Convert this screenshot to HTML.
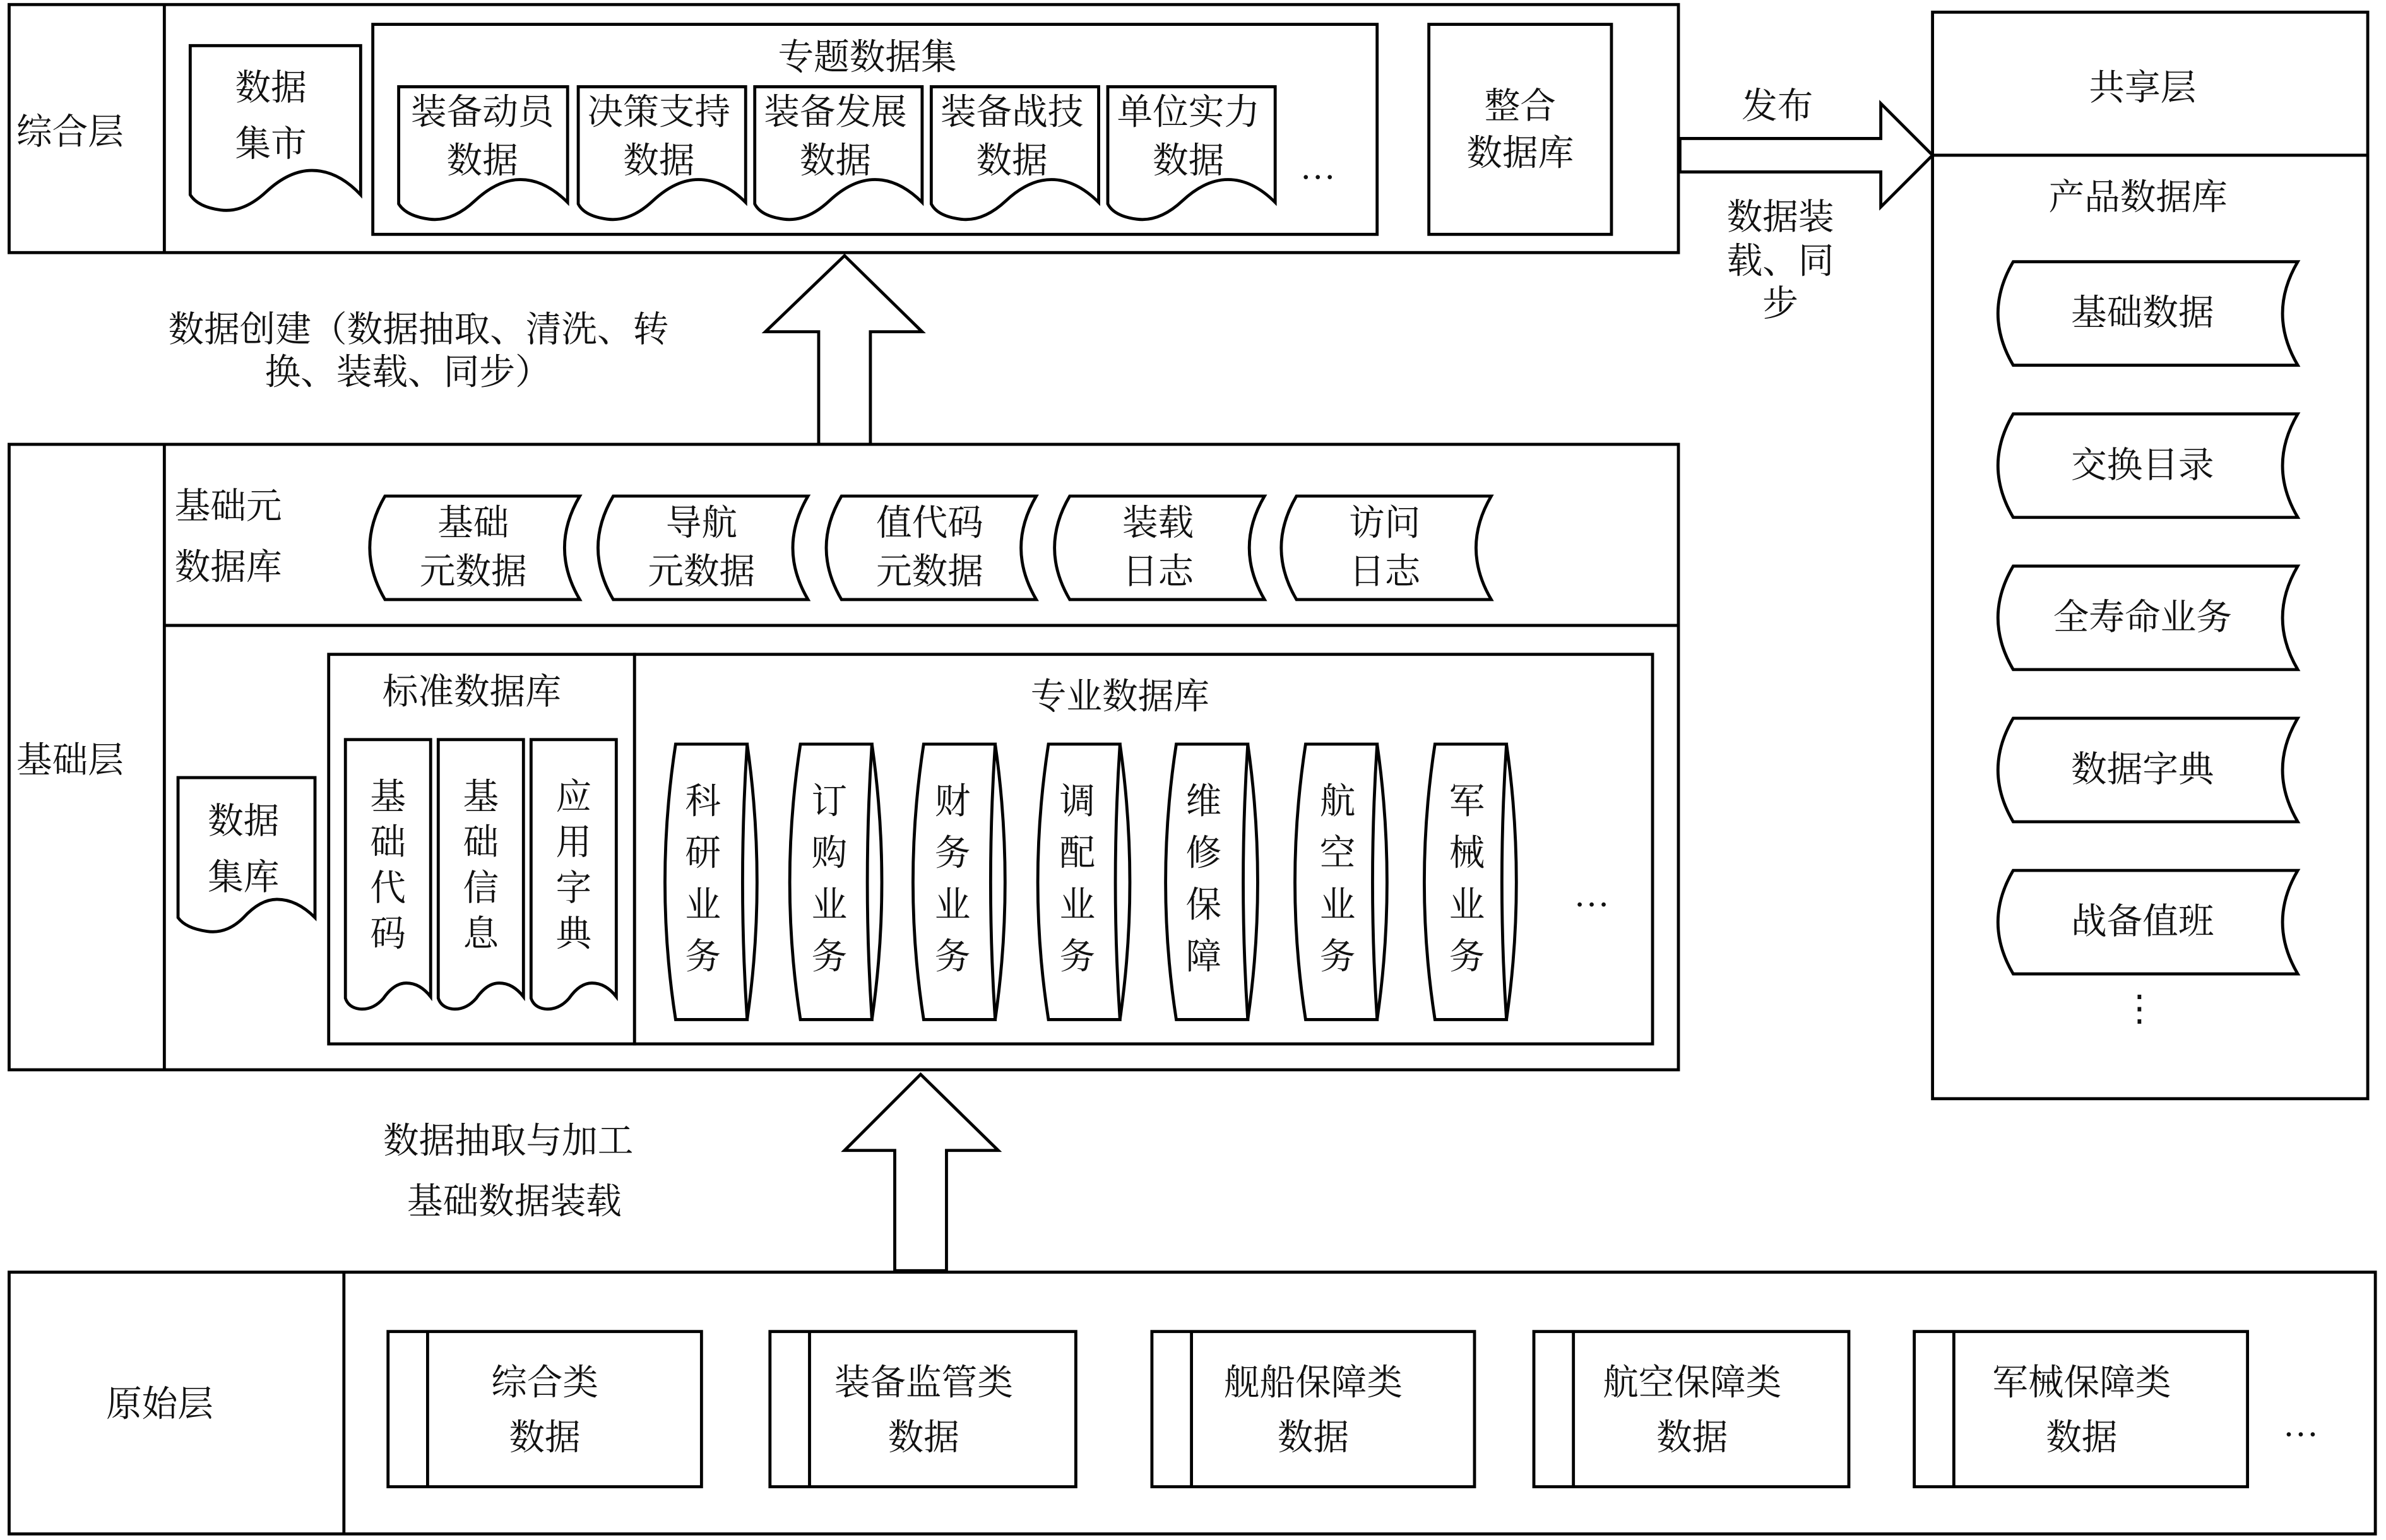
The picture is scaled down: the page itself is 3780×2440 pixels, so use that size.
<!DOCTYPE html>
<html><head><meta charset="utf-8"><style>
html,body{margin:0;padding:0;background:#fff}
svg{display:block}
text{font-family:"Liberation Serif","Noto Serif CJK SC","Noto Sans CJK SC",serif;font-size:23.5px;fill:#111;text-anchor:middle;dominant-baseline:central}
.s{fill:#fff;stroke:#000;stroke-width:2}
.n{fill:none;stroke:#000;stroke-width:2}
</style></head><body>
<svg width="3780" height="2440" viewBox="0 0 1568 1012" preserveAspectRatio="none" xmlns="http://www.w3.org/2000/svg">
<rect class="s" x="6" y="3" width="1097" height="163"/>
<line class="n" x1="108" y1="3" x2="108" y2="166"/>
<text x="46" y="87">综合层</text>
<path class="s" d="M125 30 H237 V128 Q222 112 205 112 Q190 112 175 126 Q160 140 145 138 Q130 136 125 128 Z"/>
<text x="178" y="58">数据</text><text x="178" y="95">集市</text>
<rect class="s" x="245" y="16" width="660" height="138"/>
<text x="570" y="38">专题数据集</text>
<path class="s" d="M262 57 H373 V133 Q358 118 342 118 Q327 118 312 132 Q297 146 282 144 Q267 142 262 134 Z"/>
<path class="s" d="M380 57 H490 V133 Q475 118 459 118 Q444 118 429 132 Q414 146 399 144 Q384 142 380 134 Z"/>
<path class="s" d="M496 57 H606 V133 Q591 118 575 118 Q560 118 545 132 Q530 146 515 144 Q500 142 496 134 Z"/>
<path class="s" d="M612 57 H722 V133 Q707 118 691 118 Q676 118 661 132 Q646 146 631 144 Q616 142 612 134 Z"/>
<path class="s" d="M728 57 H838 V133 Q823 118 807 118 Q792 118 777 132 Q762 146 747 144 Q732 142 728 134 Z"/>
<text x="317" y="74">装备动员</text><text x="317" y="106">数据</text>
<text x="433" y="74">决策支持</text><text x="433" y="106">数据</text>
<text x="549" y="74">装备发展</text><text x="549" y="106">数据</text>
<text x="665" y="74">装备战技</text><text x="665" y="106">数据</text>
<text x="781" y="74">单位实力</text><text x="781" y="106">数据</text>
<text x="866" y="110">…</text>
<rect class="s" x="939" y="16" width="120" height="138"/>
<text x="999" y="70">整合</text><text x="999" y="101">数据库</text>
<path class="s" d="M1104 91 H1236 V68 L1270 102 L1236 136 V113 H1104 Z"/>
<text x="1168" y="70">发布</text>
<text x="1170" y="143">数据装</text><text x="1170" y="172">载、同</text><text x="1170" y="200">步</text>
<rect class="s" x="1270" y="8" width="286" height="714"/>
<line class="n" x1="1270" y1="102" x2="1556" y2="102"/>
<text x="1408" y="58">共享层</text>
<text x="1405" y="130">产品数据库</text>
<path class="s" d="M1323 172 H1510 Q1490 206 1510 240 H1323 Q1303 206 1323 172 Z"/>
<path class="s" d="M1323 272 H1510 Q1490 306 1510 340 H1323 Q1303 306 1323 272 Z"/>
<path class="s" d="M1323 372 H1510 Q1490 406 1510 440 H1323 Q1303 406 1323 372 Z"/>
<path class="s" d="M1323 472 H1510 Q1490 506 1510 540 H1323 Q1303 506 1323 472 Z"/>
<path class="s" d="M1323 572 H1510 Q1490 606 1510 640 H1323 Q1303 606 1323 572 Z"/>
<text x="1408" y="206">基础数据</text>
<text x="1408" y="306">交换目录</text>
<text x="1408" y="406">全寿命业务</text>
<text x="1408" y="506">数据字典</text>
<text x="1408" y="606">战备值班</text>
<text x="1406" y="663">⋮</text>
<path class="s" d="M538 292 V218 H503 L555 168 L606 218 H572 V292 Z"/>
<text x="275" y="217">数据创建（数据抽取、清洗、转</text>
<text x="268" y="245">换、装载、同步）</text>
<rect class="s" x="6" y="292" width="1097" height="411"/>
<line class="n" x1="108" y1="292" x2="108" y2="703"/>
<line class="n" x1="108" y1="411" x2="1103" y2="411"/>
<text x="46" y="500">基础层</text>
<text x="150" y="333">基础元</text><text x="150" y="373">数据库</text>
<path class="s" d="M253 326 H381 Q361 360 381 394 H253 Q233 360 253 326 Z"/>
<path class="s" d="M403 326 H531 Q511 360 531 394 H403 Q383 360 403 326 Z"/>
<path class="s" d="M553 326 H681 Q661 360 681 394 H553 Q533 360 553 326 Z"/>
<path class="s" d="M703 326 H831 Q811 360 831 394 H703 Q683 360 703 326 Z"/>
<path class="s" d="M852 326 H980 Q960 360 980 394 H852 Q832 360 852 326 Z"/>
<text x="311" y="344">基础</text><text x="311" y="376">元数据</text>
<text x="461" y="344">导航</text><text x="461" y="376">元数据</text>
<text x="611" y="344">值代码</text><text x="611" y="376">元数据</text>
<text x="761" y="344">装载</text><text x="761" y="376">日志</text>
<text x="910" y="344">访问</text><text x="910" y="376">日志</text>
<path class="s" d="M117 511 H207 V603 Q195 591 182 591 Q171 591 160 603 Q149 614 136 612 Q122 610 117 603 Z"/>
<text x="160" y="540">数据</text><text x="160" y="577">集库</text>
<rect class="s" x="216" y="430" width="201" height="256"/>
<rect class="s" x="417" y="430" width="669" height="256"/>
<text x="310" y="455">标准数据库</text>
<text x="736" y="458">专业数据库</text>
<path class="s" d="M227 486 H283 V655 Q276 646 267 646 Q259 646 252 656 Q245 664 236 663 Q229 662 227 656 Z"/>
<path class="s" d="M288 486 H344 V655 Q337 646 328 646 Q320 646 313 656 Q306 664 297 663 Q290 662 288 656 Z"/>
<path class="s" d="M349 486 H405 V655 Q398 646 389 646 Q381 646 374 656 Q367 664 358 663 Q351 662 349 656 Z"/>
<g>
<text x="255" y="524">基</text><text x="255" y="554">础</text><text x="255" y="584">代</text><text x="255" y="614">码</text>
<text x="316" y="524">基</text><text x="316" y="554">础</text><text x="316" y="584">信</text><text x="316" y="614">息</text>
<text x="377" y="524">应</text><text x="377" y="554">用</text><text x="377" y="584">字</text><text x="377" y="614">典</text>
</g>
<g>
<path class="s" d="M444 489 H491 Q485 580 491 670 H444 Q430 580 444 489 Z"/><path class="n" d="M491 489 Q504 580 491 670"/>
<path class="s" d="M526 489 H573 Q567 580 573 670 H526 Q512 580 526 489 Z"/><path class="n" d="M573 489 Q586 580 573 670"/>
<path class="s" d="M607 489 H654 Q648 580 654 670 H607 Q593 580 607 489 Z"/><path class="n" d="M654 489 Q667 580 654 670"/>
<path class="s" d="M689 489 H736 Q730 580 736 670 H689 Q675 580 689 489 Z"/><path class="n" d="M736 489 Q749 580 736 670"/>
<path class="s" d="M773 489 H820 Q814 580 820 670 H773 Q759 580 773 489 Z"/><path class="n" d="M820 489 Q833 580 820 670"/>
<path class="s" d="M858 489 H905 Q899 580 905 670 H858 Q844 580 858 489 Z"/><path class="n" d="M905 489 Q918 580 905 670"/>
<path class="s" d="M943 489 H990 Q984 580 990 670 H943 Q929 580 943 489 Z"/><path class="n" d="M990 489 Q1003 580 990 670"/>
</g>
<g>
<text x="462" y="527">科</text><text x="462" y="561">研</text><text x="462" y="595">业</text><text x="462" y="629">务</text>
<text x="545" y="527">订</text><text x="545" y="561">购</text><text x="545" y="595">业</text><text x="545" y="629">务</text>
<text x="626" y="527">财</text><text x="626" y="561">务</text><text x="626" y="595">业</text><text x="626" y="629">务</text>
<text x="708" y="527">调</text><text x="708" y="561">配</text><text x="708" y="595">业</text><text x="708" y="629">务</text>
<text x="791" y="527">维</text><text x="791" y="561">修</text><text x="791" y="595">保</text><text x="791" y="629">障</text>
<text x="879" y="527">航</text><text x="879" y="561">空</text><text x="879" y="595">业</text><text x="879" y="629">务</text>
<text x="964" y="527">军</text><text x="964" y="561">械</text><text x="964" y="595">业</text><text x="964" y="629">务</text>
</g>
<text x="1046" y="588">…</text>
<path class="s" d="M588 835 V756 H555 L605 706 L656 756 H622 V835 Z"/>
<text x="334" y="750">数据抽取与加工</text>
<text x="338" y="790">基础数据装载</text>
<rect class="s" x="6" y="836" width="1555" height="172"/>
<line class="n" x1="226" y1="836" x2="226" y2="1008"/>
<text x="105" y="923">原始层</text>
<rect class="s" x="255" y="875" width="206" height="102"/><line class="n" x1="281" y1="875" x2="281" y2="977"/>
<rect class="s" x="506" y="875" width="201" height="102"/><line class="n" x1="532" y1="875" x2="532" y2="977"/>
<rect class="s" x="757" y="875" width="212" height="102"/><line class="n" x1="783" y1="875" x2="783" y2="977"/>
<rect class="s" x="1008" y="875" width="207" height="102"/><line class="n" x1="1034" y1="875" x2="1034" y2="977"/>
<rect class="s" x="1258" y="875" width="219" height="102"/><line class="n" x1="1284" y1="875" x2="1284" y2="977"/>
<text x="358" y="909">综合类</text><text x="358" y="945">数据</text>
<text x="607" y="909">装备监管类</text><text x="607" y="945">数据</text>
<text x="863" y="909">舰船保障类</text><text x="863" y="945">数据</text>
<text x="1112" y="909">航空保障类</text><text x="1112" y="945">数据</text>
<text x="1368" y="909">军械保障类</text><text x="1368" y="945">数据</text>
<text x="1512" y="936">…</text>
</svg>
</body></html>
